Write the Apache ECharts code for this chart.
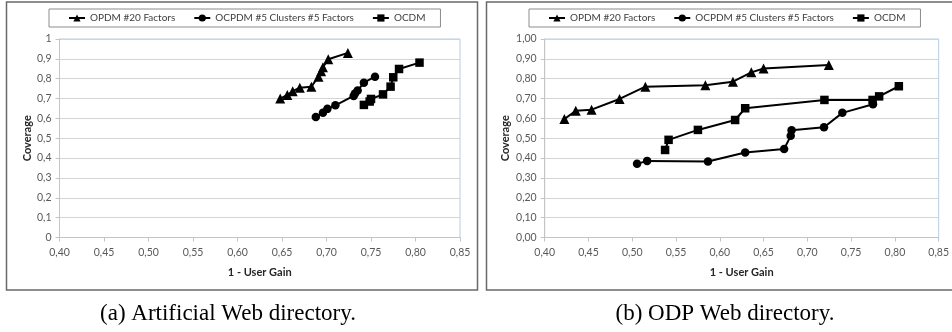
<!DOCTYPE html>
<html>
<head>
<meta charset="utf-8">
<script src="https://cdn.jsdelivr.net/npm/echarts@6/dist/echarts.min.js"></script>
<style>
  html, body { margin: 0; padding: 0; background: #fff; }
  #chart { width: 952px; height: 332px; }
</style>
</head>
<body>
<div id="chart"></div>
<script>
// series names (shared by both panels)
const seriesNames = ['OPDM #20 Factors', 'OCPDM #5 Clusters #5 Factors', 'OCDM'];

// tick labels
const xTicks = ['0,40', '0,45', '0,50', '0,55', '0,60', '0,65', '0,70', '0,75', '0,80', '0,85'];
const yTicksA = ['0', '0,1', '0,2', '0,3', '0,4', '0,5', '0,6', '0,7', '0,8', '0,9', '1'];
const yTicksB = ['0,00', '0,10', '0,20', '0,30', '0,40', '0,50', '0,60', '0,70', '0,80', '0,90', '1,00'];

// (a) Artificial Web directory  -> [1 - user gain, coverage]
const artOpdm = [[0.648, 0.70], [0.656, 0.718], [0.662, 0.737], [0.670, 0.755], [0.683, 0.760],
  [0.691, 0.810], [0.694, 0.838], [0.696, 0.858], [0.702, 0.898], [0.724, 0.930]];
const artOcpdm = [[0.688, 0.607], [0.696, 0.629], [0.701, 0.648], [0.710, 0.666], [0.7305, 0.713],
  [0.732, 0.726], [0.735, 0.740], [0.742, 0.780], [0.7545, 0.810]];
const artOcdm = [[0.742, 0.668], [0.7485, 0.685], [0.750, 0.698], [0.7635, 0.721], [0.772, 0.760],
  [0.775, 0.807], [0.7815, 0.849], [0.8045, 0.881]];

// (b) ODP Web directory
const odpOpdm = [[0.4225, 0.597], [0.4355, 0.638], [0.4535, 0.644], [0.4855, 0.698], [0.515, 0.760],
  [0.5835, 0.767], [0.615, 0.785], [0.636, 0.832], [0.650, 0.851], [0.7245, 0.869]];
const odpOcpdm = [[0.5055, 0.371], [0.517, 0.386], [0.5865, 0.383], [0.629, 0.428], [0.6735, 0.446],
  [0.681, 0.512], [0.682, 0.540], [0.719, 0.555], [0.740, 0.628], [0.775, 0.671]];
const odpOcdm = [[0.5375, 0.441], [0.5415, 0.492], [0.575, 0.542], [0.6175, 0.592], [0.629, 0.651],
  [0.7195, 0.693], [0.7745, 0.693], [0.782, 0.711], [0.8045, 0.762]];

const labelFont = { fontFamily: 'Lato', fontSize: 10.5, color: '#595959' };
const nameFont = { fontFamily: 'Lato', fontSize: 11, fontWeight: 'bold', color: '#262626' };

function curve(name, data, symbol, size, idx) {
  return {
    name: name,
    type: 'line',
    xAxisIndex: idx,
    yAxisIndex: idx,
    data: data,
    symbol: symbol,
    symbolSize: size,
    lineStyle: { color: '#000', width: 2 },
    itemStyle: { color: '#000' },
    emphasis: { disabled: true },
    z: 5
  };
}

function xAxisFor(idx) {
  return {
    type: 'value',
    gridIndex: idx,
    min: 0.4, max: 0.85, interval: 0.05,
    name: '1 - User Gain',
    nameLocation: 'middle',
    nameGap: 29,
    nameTextStyle: nameFont,
    axisLine: { show: true, lineStyle: { color: '#c4c4c4' } },
    axisTick: { show: true, length: 4, lineStyle: { color: '#c4c4c4' } },
    axisLabel: Object.assign({ margin: 10, formatter: (v, i) => xTicks[i] }, labelFont),
    splitLine: { show: false }
  };
}

function yAxisFor(idx, ticks, gap) {
  return {
    type: 'value',
    gridIndex: idx,
    min: 0, max: 1, interval: 0.1,
    name: 'Coverage',
    nameLocation: 'middle',
    nameRotate: 90,
    nameGap: gap,
    nameTextStyle: nameFont,
    axisLine: { show: true, lineStyle: { color: '#c4c4c4' } },
    axisTick: { show: true, length: 4, lineStyle: { color: '#c4c4c4' } },
    axisLabel: Object.assign({ margin: 8, formatter: (v, i) => ticks[i] }, labelFont),
    splitLine: { show: true, lineStyle: { color: '#d4d4d4', width: 1 } }
  };
}

function legendFor(left) {
  return {
    left: left,
    top: 9,
    width: 440,
    orient: 'horizontal',
    data: seriesNames,
    itemWidth: 16,
    itemHeight: 9,
    itemGap: 18,
    padding: [4, 15, 4, 19],
    borderColor: '#8c8c8c',
    borderWidth: 1,
    textStyle: { fontFamily: 'Lato', fontSize: 10, color: '#404040' },
    selectedMode: false
  };
}

const chart = echarts.init(document.getElementById('chart'));
chart.setOption({
  animation: false,
  backgroundColor: '#fff',
  legend: [legendFor(49), legendFor(529)],
  grid: [
    { left: 59.5, right: 492, top: 39, bottom: 94.5, show: true, borderColor: '#b9cde5', borderWidth: 1 },
    { left: 544.7, right: 12.3, top: 39, bottom: 94.5, show: true, borderColor: '#b9cde5', borderWidth: 1 }
  ],
  xAxis: [xAxisFor(0), xAxisFor(1)],
  yAxis: [yAxisFor(0, yTicksA, 26), yAxisFor(1, yTicksB, 34)],
  series: [
    curve(seriesNames[0], artOpdm, 'triangle', 10, 0),
    curve(seriesNames[1], artOcpdm, 'circle', 8.5, 0),
    curve(seriesNames[2], artOcdm, 'rect', 8.5, 0),
    curve(seriesNames[0], odpOpdm, 'triangle', 10, 1),
    curve(seriesNames[1], odpOcpdm, 'circle', 8.5, 1),
    curve(seriesNames[2], odpOcdm, 'rect', 8.5, 1)
  ],
  graphic: [
    { type: 'rect', shape: { x: 6.5, y: 2, width: 471, height: 288 },
      style: { fill: 'none', stroke: '#6a6a6a', lineWidth: 1.5 }, silent: true },
    { type: 'rect', shape: { x: 486.5, y: 2, width: 480, height: 288 },
      style: { fill: 'none', stroke: '#6a6a6a', lineWidth: 1.5 }, silent: true },
    { type: 'text', x: 228, y: 314,
      style: { text: '(a) Artificial Web directory.', font: '23px "Liberation Serif"', fill: '#000',
        align: 'center', verticalAlign: 'middle' } },
    { type: 'text', x: 725, y: 314,
      style: { text: '(b) ODP Web directory.', font: '23px "Liberation Serif"', fill: '#000',
        align: 'center', verticalAlign: 'middle' } }
  ]
});
</script>
</body>
</html>
